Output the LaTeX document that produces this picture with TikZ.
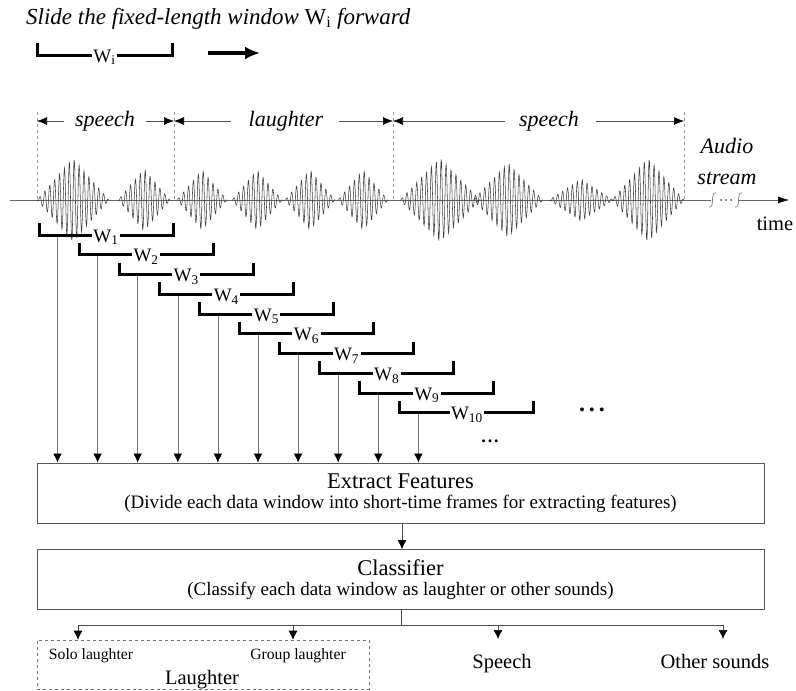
\documentclass[tikz,border=0pt]{standalone}
\usepackage{fontspec}
\setmainfont{Liberation Serif}
\usetikzlibrary{arrows.meta,positioning,scopes}

\begin{document}
\begin{tikzpicture}[
    x=1pt,y=-1pt,
    wave/.style={draw=black!75,line width=0.55pt},
    timeaxis/.style={draw=black!60,line width=0.6pt},
    bound/.style={draw=black!40,dashed,line width=0.6pt},
    seg/.style={draw=black!70,line width=0.6pt,-{Latex[black,length=10pt,width=8pt]}},
    seglbl/.style={font=\itshape\fontsize{22}{26}\selectfont,inner sep=0pt,anchor=base},
    win/.style={draw=black,line width=3pt},
    wlbl/.style={fill=white,inner sep=1.5pt,anchor=base,font=\fontsize{19}{21}\selectfont},
    feed/.style={draw=black!55,line width=0.6pt,-{Latex[black,length=9pt,width=8.5pt]}},
    link/.style={draw=black!70,line width=0.7pt},
    tip/.style={-{Latex[black,length=9pt,width=9pt]}},
    box/.style={draw=black!65,line width=0.8pt,minimum width=727pt,minimum height=60pt,align=center,inner sep=0pt},
    outlbl/.style={font=\fontsize{20.5}{24}\selectfont,anchor=base},
    sublbl/.style={font=\fontsize{15.7}{18}\selectfont,anchor=base}
]
    \useasboundingbox (0,0) rectangle (796,691);

    \node[anchor=base west,inner sep=0pt,font=\fontsize{23}{26}\selectfont] (title) at (26,24)
        {\textit{Slide the fixed-length window} W\textsubscript{i} \textit{forward}};
    \draw[win] (37,43) -- (37,55) -- (172,55) -- (172,43);
    \node[wlbl] (wi) at (104.5,62) {W\textsubscript{i}};
    \coordinate (mv) at (208,53);
    \draw[line width=3.4pt,-{Latex[length=15pt,width=13pt]}] (mv) -- ++(52,0);

    \foreach \bx [count=\k] in {37,174,393,684} {
        \draw[bound] (\bx,112) -- (\bx,200);
        \coordinate (b\k) at (\bx,121);
    }
    \node[seglbl] (s1) at (105,126) {speech};
    \node[seglbl] (l1) at (286,126) {laughter};
    \node[seglbl] (s2) at (549,126) {speech};
    {[seg]
        \draw ([xshift=-11pt]s1.west |- b1) -- (b1);
        \draw ([xshift=11pt]s1.east |- b1) -- (b2);
        \draw ([xshift=-18pt]l1.west |- b1) -- (b2);
        \draw ([xshift=16pt]l1.east |- b1) -- (b3);
        \draw ([xshift=-14pt]s2.west |- b1) -- (b3);
        \draw ([xshift=17pt]s2.east |- b1) -- (b4);
    }

    \coordinate (t0) at (10,200);
    \coordinate (t1) at (711,200);
    \coordinate (t2) at (739,200);
    \coordinate (t3) at (789,200);
    \draw[timeaxis] (t0) -- (t1);
    \draw[timeaxis,-{Latex[black,length=11pt,width=7pt]}] (t2) -- (t3);
    \draw[timeaxis] (709,207) .. controls (715,209) and (710,191) .. (716,193);
    \draw[timeaxis] (735,207) .. controls (741,209) and (736,191) .. (742,193);
    \foreach \dx in {721,726,731} \fill[black!70] (\dx,200) circle (1pt);
    \node[font=\itshape\fontsize{22}{31}\selectfont,align=center,inner sep=0pt] (audio) at (727,161) {Audio\\stream};
    \node[outlbl] (time) at (775,230) {time};

    \foreach \c/\w/\a in {73/36/42,144/26/31,202/25/30,257/25/30,310/25/30,363/25/30,
                          440/40/42,508/35/37,581/32/21,648/36/42}
        \draw[wave] plot[domain=\c-\w:\c+\w,samples=240]
            (\x,{200-\a*(1-abs(\x-\c)/\w)*sin(360*(\x-\c)/4.9)});

    \node[box] (ext) at (400.5,493) {{\fontsize{22.5}{27}\selectfont Extract Features}\\[5pt]
        {\fontsize{19}{23}\selectfont (Divide each data window into short-time frames for extracting features)}};
    \node[box] (cls) at (400.5,579.5) {{\fontsize{22.5}{27}\selectfont Classifier}\\[5pt]
        {\fontsize{19}{23}\selectfont (Classify each data window as laughter or other sounds)}};

    \foreach \i in {1,...,10} {
        \pgfmathsetmacro\wx{39+40.1*(\i-1)}
        \pgfmathsetmacro\wy{235+19.75*(\i-1)}
        \coordinate (f\i) at (\wx+18.5,\wy);
        \draw[feed] (f\i) -- (f\i |- ext.north);
        \draw[win] (\wx,\wy-12) -- (\wx,\wy) -- (\wx+134,\wy) -- (\wx+134,\wy-12);
        \node[wlbl] (w\i) at (\wx+67,\wy+7) {W\textsubscript{\i}};
    }
    \node[font=\fontsize{24}{24}\bfseries\selectfont,inner sep=0pt] (more) at (592,410) {.\hspace{4pt}.\hspace{4pt}.};
    \node[font=\fontsize{18}{18}\bfseries\selectfont,inner sep=0pt] (more2) at (490,441) {.\hspace{2pt}.\hspace{2pt}.};

    \draw[link,tip] (ext.south -| 402,0) -- (cls.north -| 402,0);

    \node[draw=black!55,dashed,line width=0.6pt,minimum width=332pt,minimum height=49pt,inner sep=0pt] (lbox) at (203,664.5) {};
    \node[sublbl] (solo) at (91,659) {Solo laughter};
    \node[sublbl] (group) at (298,659) {Group laughter};
    \node[outlbl] (laugh) at (202,684) {Laughter};
    \node[outlbl] (speech) at (502,668) {Speech};
    \node[outlbl] (other) at (715,668) {Other sounds};

    \coordinate (a1) at (78,625);
    \coordinate (a2) at (293,625);
    \coordinate (a3) at (498,625);
    \coordinate (a4) at (723,625);
    \draw[link] (cls.south -| 401,0) -- (a1 -| 401,0);
    \draw[link] (a1) -- (a4);
    {[link,tip]
        \draw (a1) -- (a1 |- lbox.north);
        \draw (a2) -- (a2 |- lbox.north);
        \draw (a3) -- ++(0,14);
        \draw (a4) -- ++(0,14);
    }
\end{tikzpicture}
\end{document}
